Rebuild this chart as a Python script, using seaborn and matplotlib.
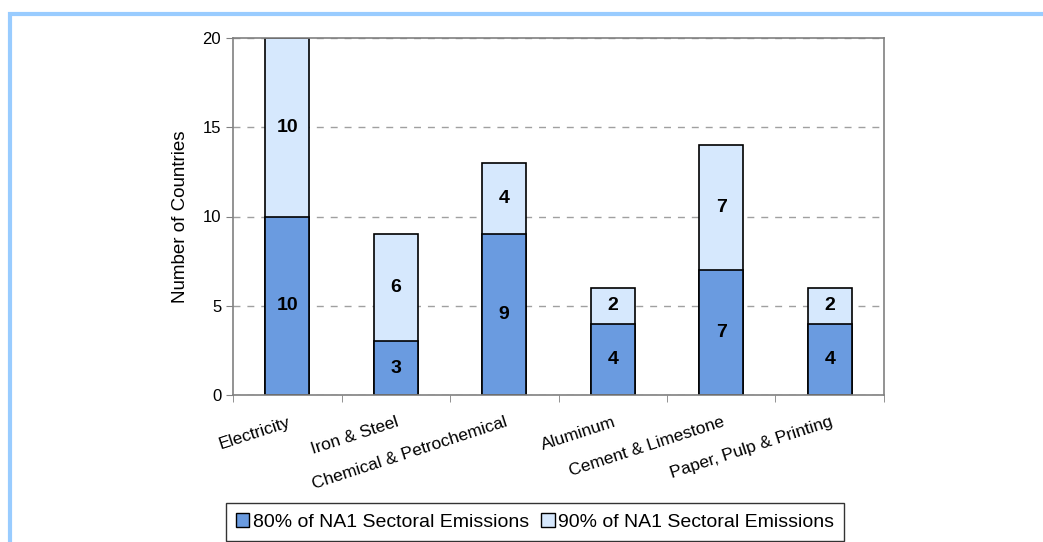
import matplotlib
matplotlib.use("Agg")
import matplotlib.pyplot as plt
import matplotlib.patches as mpatches
import pandas as pd
import seaborn as sns

sectors = ["Electricity", "Iron & Steel", "Chemical & Petrochemical", "Aluminum",
           "Cement & Limestone", "Paper, Pulp & Printing"]
pct80 = [10, 3, 9, 4, 7, 4]
pct90 = [10, 6, 4, 2, 7, 2]
series_names = ["80% of NA1 Sectoral Emissions", "90% of NA1 Sectoral Emissions"]

dark = "#6a9be0"
light = "#d6e8fd"

sns.set_style("white")
plt.rcParams["font.family"] = ["Liberation Sans", "DejaVu Sans"]
plt.rcParams["text.color"] = "black"
plt.rcParams["axes.labelcolor"] = "black"
plt.rcParams["xtick.labelcolor"] = "black"
plt.rcParams["ytick.labelcolor"] = "black"

data = pd.DataFrame({"sector": sectors, "p80": pct80, "p90": pct90})
data["total"] = data["p80"] + data["p90"]

fig = plt.figure(figsize=(10.43, 5.42), dpi=100)
ax = fig.add_axes([233 / 1043, 1 - 395 / 542, (884 - 233) / 1043, (395 - 38) / 542])

sns.barplot(data=data, x="sector", y="total", color=light, width=0.41,
            edgecolor="black", linewidth=1.2, saturation=1, ax=ax)
sns.barplot(data=data, x="sector", y="p80", color=dark, width=0.41,
            edgecolor="black", linewidth=1.2, saturation=1, ax=ax)

# value labels
for i, row in data.iterrows():
    ax.text(i, row["p80"] / 2, str(row["p80"]), ha="center", va="center",
            fontsize=14, fontweight="bold", color="black")
    ax.text(i, row["p80"] + row["p90"] / 2, str(row["p90"]), ha="center", va="center",
            fontsize=14, fontweight="bold", color="black")

ax.set_ylim(0, 20)
ax.set_xlim(-0.5, len(sectors) - 0.5)
ax.set_yticks([0, 5, 10, 15, 20])
ax.yaxis.grid(True, linestyle=(0, (5, 5)), color="#a0a0a0", linewidth=1)
ax.set_axisbelow(True)
for s in ax.spines.values():
    s.set_color("#808080")
    s.set_linewidth(1.2)
    s.set_visible(True)

ax.set_xlabel("")
ax.set_ylabel("Number of Countries", fontsize=13.5, labelpad=10)
ax.set_xticks(range(len(sectors)))
ax.set_xticklabels(sectors, rotation=18, ha="right", rotation_mode="anchor", fontsize=12.5)
ax.set_xticks([i - 0.5 for i in range(len(sectors) + 1)], minor=True)
ax.tick_params(axis="x", which="major", length=0, pad=14)
ax.tick_params(axis="x", which="minor", length=5, color="#808080", direction="out", bottom=True)
ax.tick_params(axis="y", length=5, color="#808080", direction="out", left=True, labelsize=12)

handles = [mpatches.Patch(facecolor=dark, edgecolor="black", label=series_names[0]),
           mpatches.Patch(facecolor=light, edgecolor="black", label=series_names[1])]
leg = fig.legend(handles=handles, loc="center", bbox_to_anchor=(535 / 1043, 1 - 522 / 542),
                 ncol=2, frameon=True, fancybox=False, fontsize=14, handlelength=0.7,
                 handleheight=0.7, handletextpad=0.2, columnspacing=0.6, borderpad=0.5)
leg.get_frame().set_edgecolor("black")
leg.get_frame().set_linewidth(1)

# light blue frame around the figure (cropped on the right and bottom)
fig.add_artist(mpatches.Rectangle((9.5 / 1043, -0.1), 1.2, 1 - 13.5 / 542 + 0.1,
                                  transform=fig.transFigure, fill=False,
                                  edgecolor="#99ccff", linewidth=3))

fig.savefig("out.png", dpi=100)
